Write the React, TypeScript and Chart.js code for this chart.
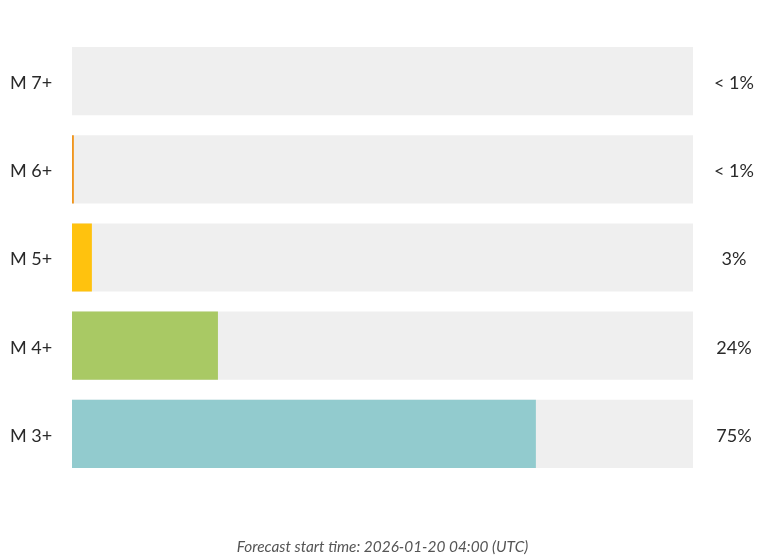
import React, { useEffect, useRef } from "react";
import { Chart, registerables } from "chart.js";

Chart.register(...registerables);

const categories = ["M 7+", "M 6+", "M 5+", "M 4+", "M 3+"];
const probabilities = [0, 0.3, 3.2, 23.5, 74.7];
const probabilityLabels = ["< 1%", "< 1%", "3%", "24%", "75%"];
const fullScale = [100, 100, 100, 100, 100];
const barColors = ["#e0413a", "#f0961e", "#ffc20e", "#a9c964", "#92cbce"];
const footerText = "Forecast start time: 2026-01-20 04:00 (UTC)";

const FONT = "Lato, 'Open Sans', sans-serif";

export default function App() {
  const ref = useRef<HTMLCanvasElement | null>(null);

  useEffect(() => {
    document.body.style.margin = "0";
    const canvas = ref.current;
    if (!canvas) return;
    const chart = new Chart(canvas, {
      type: "bar",
      data: {
        labels: categories,
        datasets: [
          {
            label: "probability",
            data: probabilities,
            backgroundColor: barColors,
            order: 0,
            yAxisID: "y",
            barPercentage: 0.773,
            categoryPercentage: 1,
          },
          {
            label: "background",
            data: fullScale,
            backgroundColor: "#efefef",
            order: 1,
            yAxisID: "y",
            barPercentage: 0.773,
            categoryPercentage: 1,
          },
        ],
      },
      options: {
        indexAxis: "y",
        animation: false,
        responsive: false,
        maintainAspectRatio: false,
        datasets: { bar: { grouped: false } },
        layout: { padding: { top: 37, left: 10, right: 0, bottom: 0 } },
        plugins: {
          legend: { display: false },
          tooltip: { enabled: false },
        },
        scales: {
          x: {
            min: 0,
            max: 100,
            grid: { display: false, drawTicks: false },
            border: { display: false },
            ticks: { display: false },
            title: {
              display: true,
              text: footerText,
              color: "#555555",
              font: { family: FONT, size: 15.4, style: "italic" },
              padding: { top: 0, bottom: 1.5 },
            },
            afterFit: (s: any) => {
              s.height = 80;
            },
          },
          y: {
            type: "category",
            position: "left",
            grid: { display: false, drawTicks: false },
            border: { display: false },
            ticks: {
              crossAlign: "far",
              padding: 0,
              labelOffset: 2,
              color: "#2a2a2a",
              font: { family: FONT, size: 18 },
            },
            afterFit: (s: any) => {
              s.width = 62;
            },
          },
          yRight: {
            type: "category",
            position: "right",
            labels: probabilityLabels,
            grid: { display: false, drawTicks: false },
            border: { display: false },
            ticks: {
              crossAlign: "center",
              padding: 21,
              labelOffset: 2,
              color: "#2a2a2a",
              font: { family: FONT, size: 18 },
            },
            afterFit: (s: any) => {
              s.width = 82;
            },
          },
        },
      },
    });
    return () => chart.destroy();
  }, []);

  return <canvas ref={ref} width={775} height={558} style={{ display: "block" }} />;
}
